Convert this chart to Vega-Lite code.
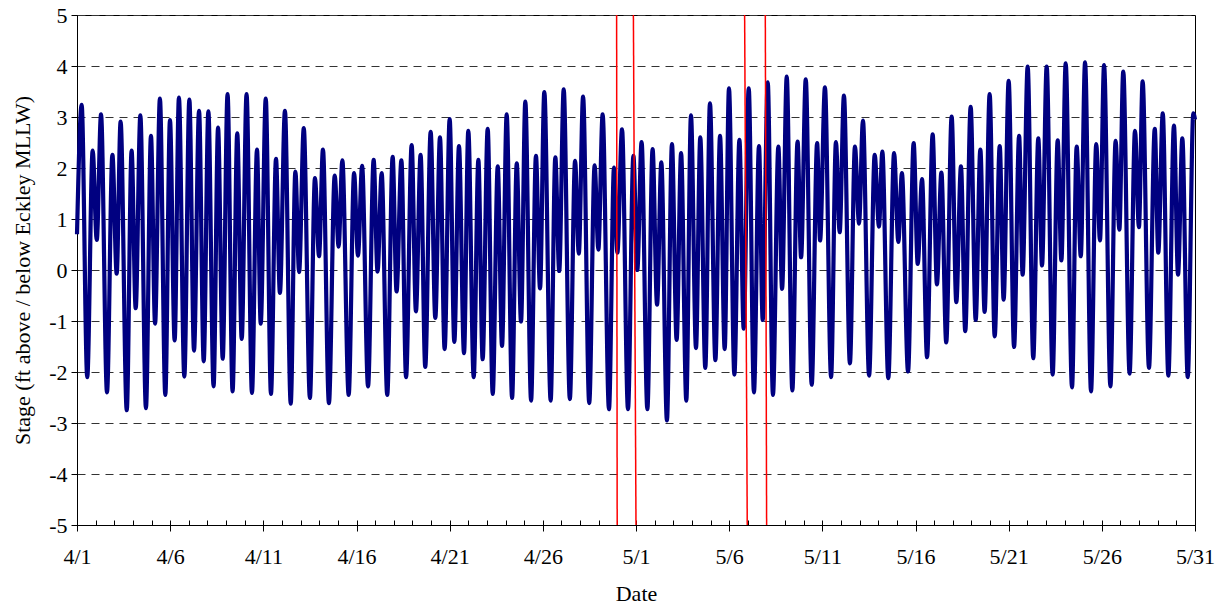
{
  "$schema": "https://vega.github.io/schema/vega-lite/v6.json",
  "width": 1118,
  "height": 510,
  "autosize": {"type": "none"},
  "padding": {"left": 77, "top": 15, "right": 29, "bottom": 84},
  "background": "#ffffff",
  "config": {
    "view": {"stroke": "#000000", "strokeWidth": 1},
    "axis": {
      "labelFont": "Liberation Serif",
      "titleFont": "Liberation Serif",
      "labelFontSize": 22,
      "titleFontSize": 22,
      "titleFontWeight": "normal",
      "labelColor": "#000000",
      "titleColor": "#000000",
      "domainColor": "#000000",
      "tickColor": "#000000",
      "tickWidth": 1,
      "domainWidth": 1
    }
  },
  "datasets": {
    "tide": [
      {"day": 0.00, "stage": 0.70}, {"day": 0.25, "stage": 3.24}, {"day": 0.55, "stage": -2.10}, {"day": 0.84, "stage": 2.34},
      {"day": 1.06, "stage": 0.59}, {"day": 1.29, "stage": 3.05}, {"day": 1.61, "stage": -2.40}, {"day": 1.90, "stage": 2.26},
      {"day": 2.13, "stage": -0.07}, {"day": 2.34, "stage": 2.91}, {"day": 2.67, "stage": -2.75}, {"day": 2.93, "stage": 2.34},
      {"day": 3.15, "stage": -0.75}, {"day": 3.40, "stage": 3.03}, {"day": 3.70, "stage": -2.71}, {"day": 3.97, "stage": 2.63},
      {"day": 4.19, "stage": -1.05}, {"day": 4.45, "stage": 3.36}, {"day": 4.74, "stage": -2.45}, {"day": 4.99, "stage": 2.94},
      {"day": 5.24, "stage": -1.38}, {"day": 5.47, "stage": 3.38}, {"day": 5.76, "stage": -2.09}, {"day": 6.03, "stage": 3.34},
      {"day": 6.28, "stage": -1.58}, {"day": 6.55, "stage": 3.12}, {"day": 6.80, "stage": -1.79}, {"day": 7.05, "stage": 3.11},
      {"day": 7.33, "stage": -2.28}, {"day": 7.57, "stage": 2.79}, {"day": 7.82, "stage": -1.74}, {"day": 8.08, "stage": 3.45},
      {"day": 8.35, "stage": -2.38}, {"day": 8.60, "stage": 2.68}, {"day": 8.84, "stage": -1.35}, {"day": 9.10, "stage": 3.45},
      {"day": 9.39, "stage": -2.41}, {"day": 9.66, "stage": 2.36}, {"day": 9.86, "stage": -1.05}, {"day": 10.13, "stage": 3.36},
      {"day": 10.41, "stage": -2.43}, {"day": 10.68, "stage": 2.18}, {"day": 10.89, "stage": -0.45}, {"day": 11.16, "stage": 3.12},
      {"day": 11.47, "stage": -2.62}, {"day": 11.72, "stage": 1.93}, {"day": 11.92, "stage": -0.04}, {"day": 12.17, "stage": 2.78},
      {"day": 12.50, "stage": -2.51}, {"day": 12.77, "stage": 1.80}, {"day": 12.99, "stage": 0.27}, {"day": 13.20, "stage": 2.36},
      {"day": 13.52, "stage": -2.61}, {"day": 13.83, "stage": 1.85}, {"day": 14.04, "stage": 0.46}, {"day": 14.24, "stage": 2.15},
      {"day": 14.58, "stage": -2.45}, {"day": 14.87, "stage": 1.90}, {"day": 15.08, "stage": 0.28}, {"day": 15.30, "stage": 2.04},
      {"day": 15.62, "stage": -2.28}, {"day": 15.92, "stage": 2.16}, {"day": 16.13, "stage": -0.03}, {"day": 16.35, "stage": 1.90},
      {"day": 16.65, "stage": -2.45}, {"day": 16.94, "stage": 2.22}, {"day": 17.15, "stage": -0.42}, {"day": 17.41, "stage": 2.15},
      {"day": 17.66, "stage": -2.10}, {"day": 17.96, "stage": 2.45}, {"day": 18.19, "stage": -0.81}, {"day": 18.44, "stage": 2.26},
      {"day": 18.69, "stage": -1.90}, {"day": 18.98, "stage": 2.71}, {"day": 19.23, "stage": -0.94}, {"day": 19.48, "stage": 2.60},
      {"day": 19.73, "stage": -1.55}, {"day": 20.00, "stage": 2.96}, {"day": 20.25, "stage": -1.41}, {"day": 20.50, "stage": 2.43},
      {"day": 20.77, "stage": -1.63}, {"day": 21.00, "stage": 2.73}, {"day": 21.29, "stage": -2.10}, {"day": 21.54, "stage": 2.16},
      {"day": 21.77, "stage": -1.75}, {"day": 22.04, "stage": 2.77}, {"day": 22.31, "stage": -2.43}, {"day": 22.58, "stage": 2.03},
      {"day": 22.81, "stage": -1.49}, {"day": 23.06, "stage": 3.05}, {"day": 23.35, "stage": -2.51}, {"day": 23.60, "stage": 2.09},
      {"day": 23.83, "stage": -1.01}, {"day": 24.06, "stage": 3.30}, {"day": 24.37, "stage": -2.56}, {"day": 24.63, "stage": 2.24},
      {"day": 24.85, "stage": -0.36}, {"day": 25.08, "stage": 3.49}, {"day": 25.42, "stage": -2.56}, {"day": 25.67, "stage": 2.21},
      {"day": 25.88, "stage": -0.02}, {"day": 26.12, "stage": 3.54}, {"day": 26.45, "stage": -2.53}, {"day": 26.73, "stage": 2.14},
      {"day": 26.93, "stage": 0.32}, {"day": 27.16, "stage": 3.40}, {"day": 27.49, "stage": -2.61}, {"day": 27.78, "stage": 2.05},
      {"day": 27.98, "stage": 0.40}, {"day": 28.21, "stage": 3.05}, {"day": 28.55, "stage": -2.73}, {"day": 28.82, "stage": 2.01},
      {"day": 29.00, "stage": 0.34}, {"day": 29.25, "stage": 2.76}, {"day": 29.57, "stage": -2.73}, {"day": 29.86, "stage": 2.24},
      {"day": 30.07, "stage": 0.00}, {"day": 30.30, "stage": 2.51}, {"day": 30.61, "stage": -2.73}, {"day": 30.89, "stage": 2.37},
      {"day": 31.13, "stage": -0.68}, {"day": 31.36, "stage": 2.11}, {"day": 31.66, "stage": -2.95}, {"day": 31.93, "stage": 2.47},
      {"day": 32.18, "stage": -1.37}, {"day": 32.42, "stage": 2.29}, {"day": 32.70, "stage": -2.56}, {"day": 32.95, "stage": 3.03},
      {"day": 33.22, "stage": -1.53}, {"day": 33.45, "stage": 2.60}, {"day": 33.72, "stage": -1.92}, {"day": 33.97, "stage": 3.27},
      {"day": 34.26, "stage": -1.77}, {"day": 34.51, "stage": 2.63}, {"day": 34.76, "stage": -1.55}, {"day": 34.99, "stage": 3.56},
      {"day": 35.28, "stage": -2.05}, {"day": 35.55, "stage": 2.55}, {"day": 35.78, "stage": -1.15}, {"day": 36.05, "stage": 3.56},
      {"day": 36.33, "stage": -2.40}, {"day": 36.60, "stage": 2.43}, {"day": 36.80, "stage": -0.98}, {"day": 37.07, "stage": 3.68},
      {"day": 37.35, "stage": -2.45}, {"day": 37.64, "stage": 2.42}, {"day": 37.84, "stage": -0.37}, {"day": 38.09, "stage": 3.79},
      {"day": 38.39, "stage": -2.36}, {"day": 38.67, "stage": 2.52}, {"day": 38.86, "stage": 0.25}, {"day": 39.11, "stage": 3.74},
      {"day": 39.43, "stage": -2.25}, {"day": 39.72, "stage": 2.49}, {"day": 39.88, "stage": 0.58}, {"day": 40.14, "stage": 3.58},
      {"day": 40.47, "stage": -2.10}, {"day": 40.73, "stage": 2.51}, {"day": 40.93, "stage": 0.74}, {"day": 41.16, "stage": 3.42},
      {"day": 41.48, "stage": -1.83}, {"day": 41.75, "stage": 2.42}, {"day": 41.97, "stage": 0.91}, {"day": 42.18, "stage": 2.93},
      {"day": 42.51, "stage": -2.07}, {"day": 42.81, "stage": 2.26}, {"day": 43.04, "stage": 0.85}, {"day": 43.22, "stage": 2.32},
      {"day": 43.54, "stage": -2.12}, {"day": 43.85, "stage": 2.29}, {"day": 44.08, "stage": 0.55}, {"day": 44.27, "stage": 1.90},
      {"day": 44.60, "stage": -1.99}, {"day": 44.90, "stage": 2.49}, {"day": 45.12, "stage": 0.12}, {"day": 45.35, "stage": 1.78},
      {"day": 45.62, "stage": -1.71}, {"day": 45.92, "stage": 2.66}, {"day": 46.15, "stage": -0.28}, {"day": 46.39, "stage": 1.91},
      {"day": 46.65, "stage": -1.42}, {"day": 46.94, "stage": 3.01}, {"day": 47.19, "stage": -0.63}, {"day": 47.44, "stage": 2.03},
      {"day": 47.67, "stage": -1.20}, {"day": 47.96, "stage": 3.20}, {"day": 48.23, "stage": -0.98}, {"day": 48.48, "stage": 2.36},
      {"day": 48.71, "stage": -0.82}, {"day": 48.98, "stage": 3.45}, {"day": 49.25, "stage": -1.30}, {"day": 49.52, "stage": 2.43},
      {"day": 49.73, "stage": -0.58}, {"day": 50.00, "stage": 3.71}, {"day": 50.29, "stage": -1.51}, {"day": 50.56, "stage": 2.63},
      {"day": 50.75, "stage": -0.09}, {"day": 51.02, "stage": 3.99}, {"day": 51.32, "stage": -1.73}, {"day": 51.59, "stage": 2.58},
      {"day": 51.79, "stage": 0.09}, {"day": 52.04, "stage": 3.99}, {"day": 52.36, "stage": -2.05}, {"day": 52.63, "stage": 2.54},
      {"day": 52.83, "stage": 0.19}, {"day": 53.06, "stage": 4.05}, {"day": 53.40, "stage": -2.30}, {"day": 53.65, "stage": 2.42},
      {"day": 53.87, "stage": 0.27}, {"day": 54.10, "stage": 4.07}, {"day": 54.42, "stage": -2.38}, {"day": 54.70, "stage": 2.47},
      {"day": 54.90, "stage": 0.58}, {"day": 55.12, "stage": 4.02}, {"day": 55.46, "stage": -2.28}, {"day": 55.74, "stage": 2.53},
      {"day": 55.94, "stage": 0.79}, {"day": 56.15, "stage": 3.89}, {"day": 56.49, "stage": -2.03}, {"day": 56.78, "stage": 2.73},
      {"day": 56.99, "stage": 0.84}, {"day": 57.19, "stage": 3.70}, {"day": 57.53, "stage": -1.92}, {"day": 57.84, "stage": 2.77},
      {"day": 58.03, "stage": 0.34}, {"day": 58.27, "stage": 3.07}, {"day": 58.57, "stage": -2.07}, {"day": 58.87, "stage": 2.83},
      {"day": 59.09, "stage": -0.09}, {"day": 59.32, "stage": 2.58}, {"day": 59.61, "stage": -2.10}, {"day": 59.91, "stage": 3.07},
      {"day": 60.00, "stage": 2.95}
    ],
    "markers": [
      {"bottom_day": 28.99, "top_day": 28.96, "bottom": -5, "top": 5},
      {"bottom_day": 30.00, "top_day": 29.86, "bottom": -5, "top": 5},
      {"bottom_day": 35.97, "top_day": 35.83, "bottom": -5, "top": 5},
      {"bottom_day": 37.01, "top_day": 36.94, "bottom": -5, "top": 5}
    ]
  },
  "layer": [
    {
      "data": {"name": "tide"},
      "mark": {"type": "line", "color": "#000080", "strokeWidth": 4.2, "interpolate": "monotone"},
      "encoding": {
        "x": {
          "field": "day", "type": "quantitative",
          "scale": {"domain": [0, 60], "nice": false, "zero": false},
          "axis": {
            "orient": "bottom",
            "values": [0, 5, 10, 15, 20, 25, 30, 35, 40, 45, 50, 55, 60],
            "tickSize": 6, "labelPadding": 15, "grid": false,
            "labelAlign": "center", "labelFlush": false, "labelBaseline": "top",
            "labelExpr": "timeFormat(datetime(2007, 3, 1 + datum.value), '%-m/%-d')",
            "title": "Date", "titlePadding": 16
          }
        },
        "y": {
          "field": "stage", "type": "quantitative",
          "scale": {"domain": [-5, 5], "nice": false},
          "axis": {
            "values": [-5, -4, -3, -2, -1, 0, 1, 2, 3, 4, 5],
            "tickSize": 6, "labelPadding": 4, "grid": true,
            "gridDash": [8, 6], "gridColor": "#333333", "gridWidth": 1,
            "labelExpr": "'' + datum.value",
            "title": "Stage (ft above / below Eckley MLLW)", "titlePadding": 14
          }
        }
      }
    },
    {
      "data": {"name": "markers"},
      "mark": {"type": "rule", "color": "#ff0000", "strokeWidth": 1.5},
      "encoding": {
        "x": {
          "field": "bottom_day", "type": "quantitative",
          "axis": {
            "orient": "bottom",
            "values": [0,1,2,3,4,5,6,7,8,9,10,11,12,13,14,15,16,17,18,19,20,21,22,23,24,25,26,27,28,29,30,31,32,33,34,35,36,37,38,39,40,41,42,43,44,45,46,47,48,49,50,51,52,53,54,55,56,57,58,59,60],
            "tickSize": -5, "labels": false, "title": null, "domain": false, "grid": false
          }
        },
        "x2": {"field": "top_day"},
        "y": {
          "field": "bottom", "type": "quantitative",
          "axis": {
            "values": [-5, -4, -3, -2, -1, 0, 1, 2, 3, 4, 5],
            "tickSize": 6, "labelPadding": 4, "grid": true,
            "gridDash": [8, 6], "gridColor": "#333333", "gridWidth": 1,
            "labelExpr": "'' + datum.value",
            "title": "Stage (ft above / below Eckley MLLW)", "titlePadding": 14
          }
        },
        "y2": {"field": "top"}
      }
    }
  ],
  "resolve": {"axis": {"x": "independent"}}
}
